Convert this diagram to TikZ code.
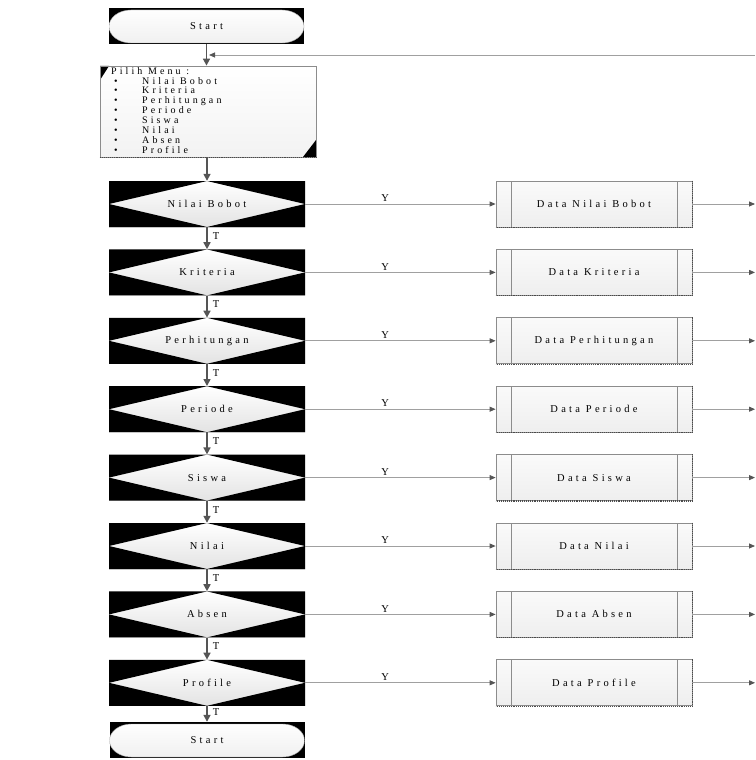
\documentclass[tikz,border=0pt]{standalone}
\usepackage{fontspec}
\setmainfont{Liberation Serif}[LetterSpace=31]
\usetikzlibrary{arrows.meta}
\definecolor{lineg}{HTML}{A0A0A0}
\definecolor{arrg}{HTML}{555555}
\definecolor{boxline}{HTML}{8C8C8C}
\definecolor{shadowc}{HTML}{4A4A4A}
\begin{document}
\begin{tikzpicture}[x=1pt,y=-1pt,
  lbl/.style={font=\fontsize{10.5}{11}\selectfont,inner sep=1pt},
  diam/.style={minimum width=196pt,minimum height=46pt,inner sep=0pt,
    top color=white,bottom color=gray!22,font=\fontsize{10.5}{11}\selectfont,
    path picture={
      \fill[black] (path picture bounding box.north west) -- (path picture bounding box.north) -- (path picture bounding box.west) -- cycle;
      \fill[black] (path picture bounding box.north east) -- (path picture bounding box.north) -- (path picture bounding box.east) -- cycle;
      \fill[black] (path picture bounding box.south west) -- (path picture bounding box.south) -- (path picture bounding box.west) -- cycle;
      \fill[black] (path picture bounding box.south east) -- (path picture bounding box.south) -- (path picture bounding box.east) -- cycle;
    }},
  termin/.style={minimum width=195pt,minimum height=36pt,inner sep=0pt,fill=black,
    font=\fontsize{10.5}{11}\selectfont,
    path picture={
      \shade[top color=white,bottom color=gray!12,draw=gray!70]
        ([xshift=22pt,yshift=-2pt]path picture bounding box.north west) -- ([xshift=-22pt,yshift=-2pt]path picture bounding box.north east)
        arc[start angle=90,end angle=-90,x radius=22pt,y radius=16.5pt]
        -- ([xshift=22pt,yshift=1pt]path picture bounding box.south west)
        arc[start angle=-90,end angle=-270,x radius=22pt,y radius=16.5pt] -- cycle;
    }},
  procbox/.style={draw=boxline,line width=0.8pt,top color=gray!4,bottom color=gray!13,
    minimum width=196pt,minimum height=46pt,inner sep=0pt,font=\fontsize{10.5}{11}\selectfont,
    path picture={
      \draw[boxline,line width=0.8pt] ([xshift=15pt]path picture bounding box.north west) -- ([xshift=15pt]path picture bounding box.south west);
      \draw[boxline,line width=0.8pt] ([xshift=-15pt]path picture bounding box.north east) -- ([xshift=-15pt]path picture bounding box.south east);
    }},
  menubox/.style={draw=boxline,line width=0.8pt,top color=white,bottom color=gray!10,
    minimum width=216pt,minimum height=91pt,inner sep=0pt,
    path picture={
      \fill[black] (path picture bounding box.north west) -- ++(9pt,0) -- ++(-9pt,-14pt) -- cycle;
      \fill[black] (path picture bounding box.south east) -- ++(-13pt,0) -- ++(13pt,17pt) -- cycle;
    }},
  down/.style={draw=arrg,line width=1.6pt,-{Triangle[length=7pt,width=7pt]}},
  yline/.style={draw=lineg,line width=0.8pt,-{Triangle[length=6pt,width=5pt,color=arrg]}},
  shadowline/.style={draw=shadowc,line width=1.1pt,densely dotted},
]
\useasboundingbox (0,0) rectangle (755,760);
\fill[white] (0,0) rectangle (755,760);

% start
\node[termin] (start) at (206.5,26) {Start};
\node[menubox] (menu) at (208,111.5) {};
\draw[shadowline] (menu.south west) -- (menu.south east);
\node[lbl,anchor=north west,align=left,font=\fontsize{10}{9.9}\selectfont] (menutext) at (110,66)
  {Pilih Menu :\\
   \hspace*{3pt}\makebox[28pt][l]{•}Nilai Bobot\\
   \hspace*{3pt}\makebox[28pt][l]{•}Kriteria\\
   \hspace*{3pt}\makebox[28pt][l]{•}Perhitungan\\
   \hspace*{3pt}\makebox[28pt][l]{•}Periode\\
   \hspace*{3pt}\makebox[28pt][l]{•}Siswa\\
   \hspace*{3pt}\makebox[28pt][l]{•}Nilai\\
   \hspace*{3pt}\makebox[28pt][l]{•}Absen\\
   \hspace*{3pt}\makebox[28pt][l]{•}Profile};

\draw[down] (start.south) -- (start.south |- menu.north);
\coordinate (retstart) at (755,55);
\coordinate (retend) at (209,55);
\draw[yline] (retstart) -- (retend);

% decisions and processes
\foreach \i/\lab/\plab in {0/Nilai Bobot/Data Nilai Bobot,1/Kriteria/Data Kriteria,
  2/Perhitungan/Data Perhitungan,3/Periode/Data Periode,4/Siswa/Data Siswa,
  5/Nilai/Data Nilai,6/Absen/Data Absen,7/Profile/Data Profile}{
  \pgfmathsetmacro\cy{204+68.4*\i}
  \node[diam] (d\i) at (207,\cy) {\lab};
  \node[procbox] (p\i) at (594,\cy) {\plab};
  \draw[shadowline] (p\i.north east) -- (p\i.south east) -- (p\i.south west);
  \coordinate (o\i) at (755,\cy);
  \draw[yline] (d\i.east) -- node[lbl,pos=0.42,above=1pt] (y\i) {Y} (p\i.west);
  \draw[yline] (p\i.east) -- (o\i);
}
\draw[down] (d0.north |- menu.south) -- (d0.north);
\foreach \i in {0,...,6}{
  \pgfmathtruncatemacro\j{\i+1}
  \draw[down] (d\i.south) -- node[lbl,pos=0.4,right=4pt] (t\i) {T} (d\j.north);
}
\node[termin] (stop) at (207,740) {Start};
\draw[down] (d7.south) -- node[lbl,pos=0.4,right=4pt] (t7) {T} (stop.north);
\end{tikzpicture}
\end{document}
